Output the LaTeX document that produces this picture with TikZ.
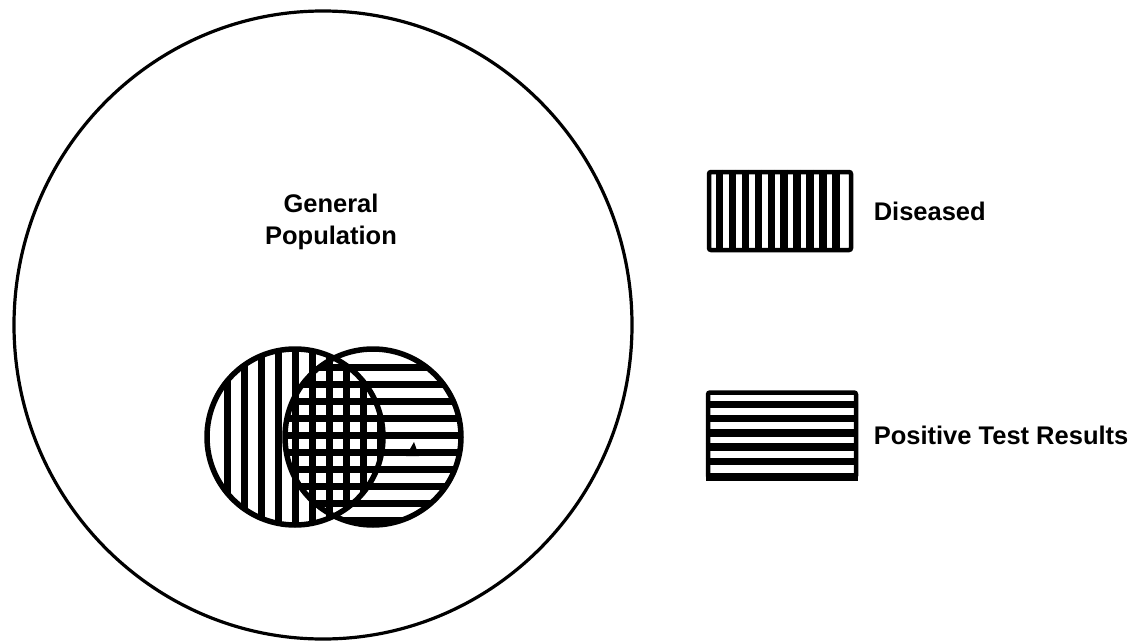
\documentclass[tikz,border=0pt]{standalone}
\usepackage{fontspec}
\setmainfont{Liberation Sans}
\usetikzlibrary{positioning}
\tikzset{
  every picture/.style={line width=3pt},
  sBound/.style={line width=3.2pt},
  sSet/.style={line width=5.5pt},
  sHatch/.style={line width=7pt},
  sKeyHatch/.style={line width=7.5pt},
  sKey/.style={draw, line width=4.5pt, inner sep=0pt, rounded corners=2pt},
  sLabel/.style={inner sep=0pt, font=\bfseries\fontsize{25.5}{32}\selectfont},
}
\begin{document}
\begin{tikzpicture}[x=1pt,y=-1pt]
  \useasboundingbox (0,0) rectangle (1146,642);
  % population
  \draw[sBound] (323,325) ellipse [x radius=309, y radius=314];
  \node[sLabel, align=center] (pop) at (331,222) {General\\Population};
  % the two sets
  \coordinate (D) at (295,437);
  \coordinate (T) at (373,437);
  \begin{scope}
    \clip (D) circle [radius=88];
    \foreach \x in {227,244,...,380} \draw[sHatch] (\x,340) -- (\x,540);
  \end{scope}
  \begin{scope}
    \clip (T) circle [radius=88];
    \foreach \y in {367,384,...,520} \draw[sHatch] (270,\y) -- (470,\y);
  \end{scope}
  \draw[sSet] (D) circle [radius=88];
  \draw[sSet] (T) circle [radius=88];
  \fill (406,456) -- (419,456) -- (414,442) -- cycle;
  % legend
  \node[sKey, minimum width=142pt, minimum height=78pt] (keyD) at (780,211) {};
  \foreach \i in {1,...,10}
    \draw[sKeyHatch] ([xshift={\i*12.9pt}]keyD.north west) -- ([xshift={\i*12.9pt}]keyD.south west);
  \node[sLabel, right=19pt of keyD] (labD) {Diseased};
  \node[sKey, minimum width=148pt, minimum height=85pt] (keyT) at (782,435) {};
  \foreach \i in {1,...,5}
    \draw[sKeyHatch] ([yshift={-\i*14.2pt}]keyT.north west) -- ([yshift={-\i*14.2pt}]keyT.north east);
  \draw[line width=8pt] ([yshift=3pt]keyT.south west) -- ([yshift=3pt]keyT.south east);
  \node[sLabel, right=14pt of keyT] (labT) {Positive Test Results};
\end{tikzpicture}
\end{document}
